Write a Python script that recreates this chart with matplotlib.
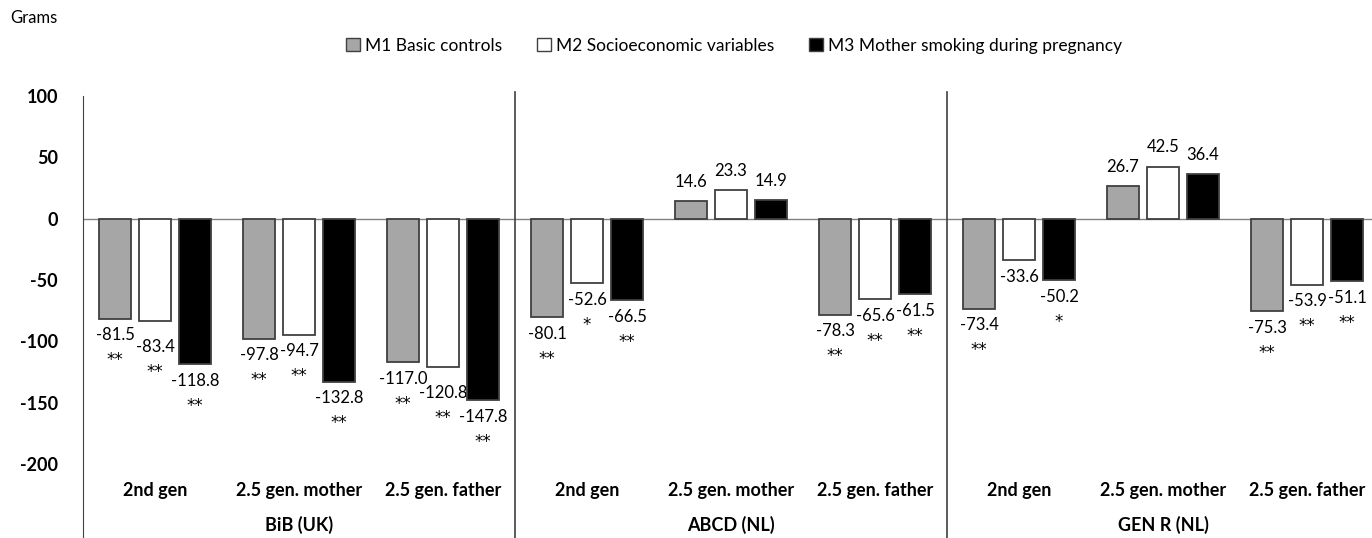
import matplotlib.pyplot as plt
from matplotlib.patches import Patch
import numpy as np

plt.rcParams['font.family'] = ['Lato', 'DejaVu Sans']

# datos
cohorts = ['BiB (UK)', 'ABCD (NL)', 'GEN R (NL)']
categories = ['2nd gen', '2.5 gen. mother', '2.5 gen. father'] * 3
series_names = ['M1 Basic controls', 'M2 Socioeconomic variables',
                'M3 Mother smoking during pregnancy']
m1 = [-81.5, -97.8, -117.0, -80.1, 14.6, -78.3, -73.4, 26.7, -75.3]
m2 = [-83.4, -94.7, -120.8, -52.6, 23.3, -65.6, -33.6, 42.5, -53.9]
m3 = [-118.8, -132.8, -147.8, -66.5, 14.9, -61.5, -50.2, 36.4, -51.1]
stars_m1 = ['**', '**', '**', '**', '', '**', '**', '', '**']
stars_m2 = ['**', '**', '**', '*', '', '**', '', '', '**']
stars_m3 = ['**', '**', '**', '**', '', '**', '*', '', '**']

colors = ['#a6a6a6', 'white', 'black']
values = [m1, m2, m3]
stars = [stars_m1, stars_m2, stars_m3]

fig = plt.figure(figsize=(13.72, 5.38), dpi=100)
ax = fig.add_axes([83 / 1372, 0, 1296 / 1372, 442 / 538])

x = np.arange(len(categories))
width = 0.222
step = 0.278

for i, (vals, col, st) in enumerate(zip(values, colors, stars)):
    pos = x + (i - 1) * step
    ax.bar(pos, vals, width, color=col, edgecolor='#404040', linewidth=1.3, zorder=3)
    for j, (p, v, s) in enumerate(zip(pos, vals, st)):
        if v >= 0:
            ax.annotate(f'{v:.1f}', (p, v), xytext=(0, 8), textcoords='offset points',
                        ha='center', va='bottom', fontsize=12)
            continue
        # bajar la etiqueta si choca con la de la barra de la izquierda
        extra = 0
        if i > 0 and 0 < values[i - 1][j] - v < 5:
            extra = -7
        ax.annotate(f'{v:.1f}', (p, v), xytext=(0, -12 + extra), textcoords='offset points',
                    ha='center', va='center', fontsize=12)
        if s:
            ax.annotate(s, (p, v), xytext=(0, -30 + extra), textcoords='offset points',
                        ha='center', va='center', fontsize=12, family='DejaVu Sans')

ax.axhline(0, color='#808080', linewidth=1, zorder=2)
ax.set_xlim(-0.5, 8.5)
ax.set_ylim(-260.4, 100)
ax.set_yticks(np.arange(-200, 101, 50))
ax.set_yticklabels([str(t) for t in range(-200, 101, 50)], fontsize=13, fontweight='bold')
ax.tick_params(axis='y', length=0, pad=18)
ax.set_xticks([])
for s in ['top', 'right', 'bottom']:
    ax.spines[s].set_visible(False)
ax.spines['left'].set_color('#404040')

# separadores entre cohortes
for sep in [2.5, 5.5]:
    ax.plot([sep, sep], [-260.4, 103], color='#404040', linewidth=1.2, clip_on=False)

for xi, c in zip(x, categories):
    ax.text(xi, -222, c, ha='center', va='center', fontsize=13, fontweight='bold')
for k, c in enumerate(cohorts):
    ax.text(3 * k + 1, -249.5, c, ha='center', va='center', fontsize=13, fontweight='bold')

handles = [Patch(facecolor=c, edgecolor='#404040', linewidth=1) for c in colors]
fig.legend(handles, series_names, loc='center', bbox_to_anchor=(0.535, 0.915), ncol=3,
           frameon=False, fontsize=12.5, handlelength=0.8, handleheight=0.8,
           handletextpad=0.3, columnspacing=2.0)
fig.text(10 / 1372, 1 - 18 / 538, 'Grams', ha='left', va='center', fontsize=12)

plt.savefig('out.png', dpi=100)
